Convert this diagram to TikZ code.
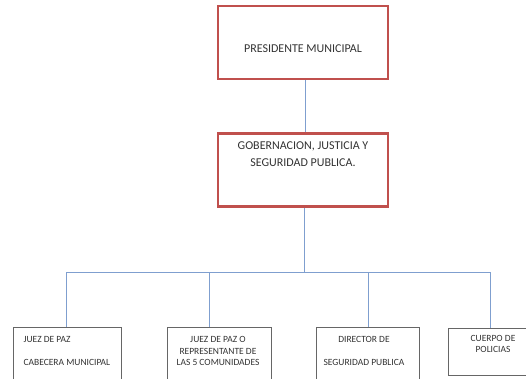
\documentclass[tikz,border=0pt]{standalone}
\usepackage{fontspec}
\setmainfont{Carlito}
\usetikzlibrary{positioning}
\definecolor{boxred}{HTML}{C0504D}
\definecolor{linkblue}{HTML}{7F9FCF}
\tikzset{
    node distance=52pt,
    every node/.append style={
        text=black!80
    },
    mainbox/.style={
        draw=boxred,
        line width=2.5pt,
        minimum width=170pt,
        minimum height=73pt
    },
    unitbox/.style={
        draw=black!60,
        line width=1pt,
        anchor=north west,
        minimum height=70pt
    },
    link/.style={
        draw=linkblue,
        line width=0.8pt
    },
    toptext/.style={
        font=\fontsize{12}{17}\selectfont,
        align=center
    },
    smalltext/.style={
        font=\fontsize{9.5}{11.5}\selectfont,
        align=center
    }
}

\begin{document}
\begin{tikzpicture}[x=1pt, y=-1pt]
    \useasboundingbox (0,0) rectangle (526,379);

    \node[mainbox] (pres) at (303,42.5) {};
    \node[mainbox, below=of pres] (gob) {};
    \node[toptext] (pres text) at (303,49) {PRESIDENTE MUNICIPAL};
    \node[toptext] (gob text) at (303,154.5) {GOBERNACION, JUSTICIA Y\\SEGURIDAD PUBLICA.};

    \node[unitbox, minimum width=108pt] (juez) at (13,327) {};
    \node[unitbox, minimum width=104pt] (rep) at (167,327) {};
    \node[unitbox, minimum width=103pt] (dir) at (316,327) {};
    \node[unitbox, minimum width=78pt, minimum height=47pt] (pol) at (448,328) {};

    \node[smalltext, align=left, anchor=west] (juez text) at (20,350.5) {JUEZ DE PAZ\\[11.5pt]CABECERA MUNICIPAL};
    \node[smalltext] (rep text) at (218,351) {JUEZ DE PAZ O\\REPRESENTANTE DE\\LAS 5 COMUNIDADES};
    \node[smalltext] (dir text) at (364,351) {DIRECTOR DE\\[11pt]SEGURIDAD PUBLICA};
    \node[smalltext] (pol text) at (493,344) {CUERPO DE\\POLICIAS};

    \coordinate (bus) at (304,272);
    \draw[link] ([xshift=2pt]pres.south) -- ([xshift=2pt]gob.north);
    \draw[link] ([xshift=1pt]gob.south) -- (bus);
    \draw[link] ([xshift=-1pt]juez.north) |- (bus);
    \draw[link] ([xshift=-10pt]rep.north) |- (bus);
    \draw[link] (dir.north) |- (bus);
    \draw[link] ([xshift=3pt]pol.north) |- (bus);
\end{tikzpicture}
\end{document}
